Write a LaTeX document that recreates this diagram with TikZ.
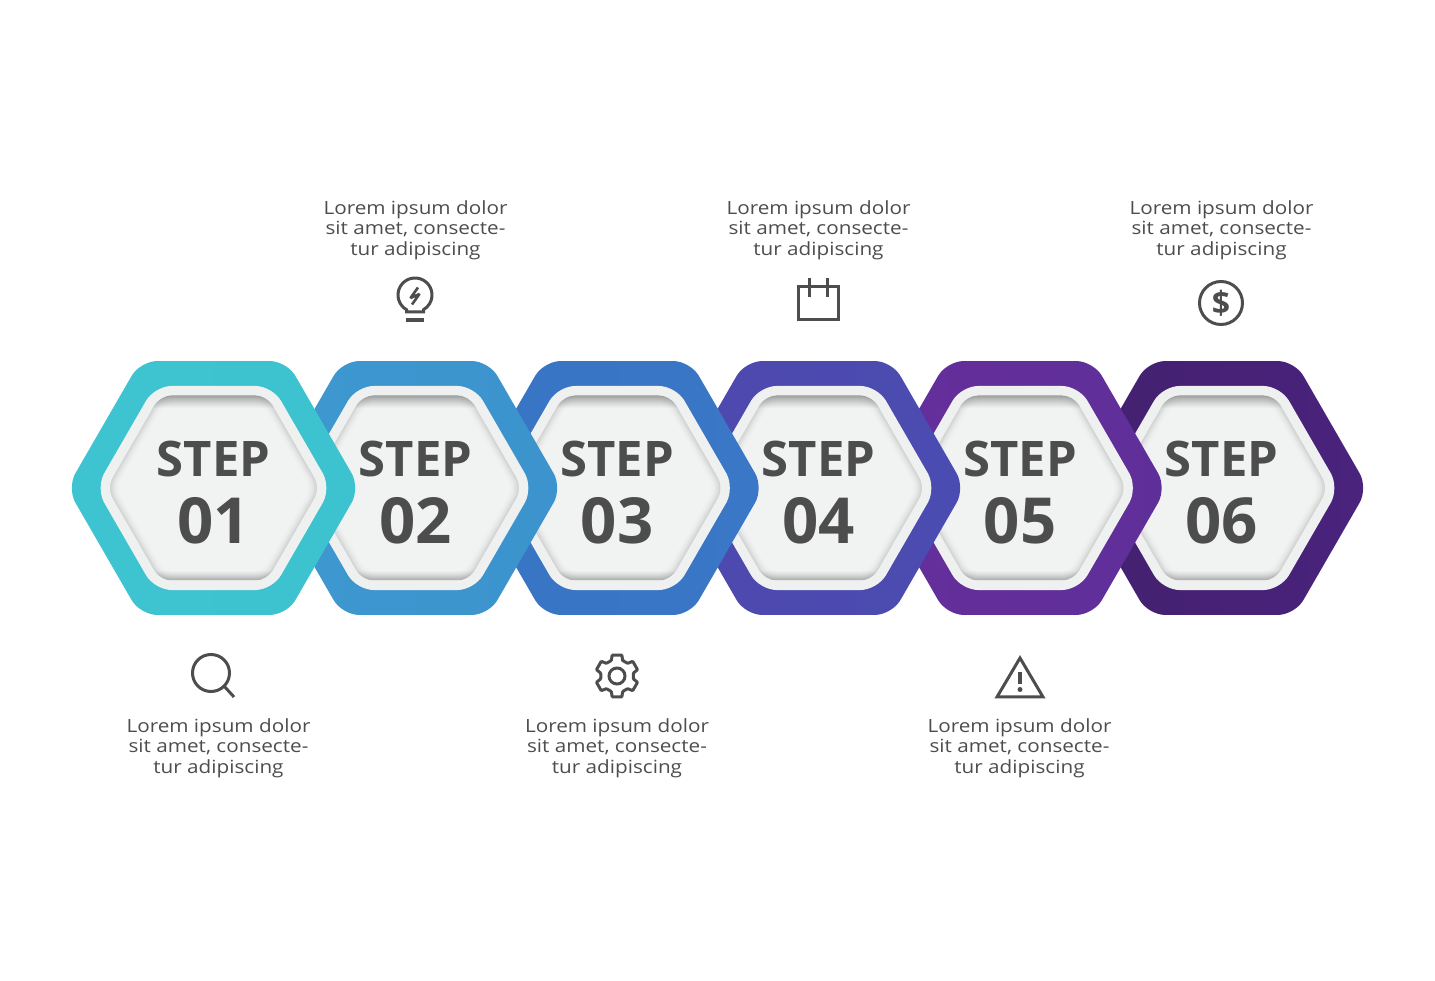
\documentclass[tikz,border=0pt]{standalone}
\usepackage{fontspec}
\setmainfont{Open Sans}
\newfontfamily\loremfont[FakeStretch=1.137]{Open Sans}
\usetikzlibrary{shapes.geometric}
\definecolor{inkgrey}{HTML}{4D4D4D}
\definecolor{ringgrey}{HTML}{EFF0F0}
\definecolor{padgrey}{HTML}{F1F2F2}
\definecolor{hexAl}{HTML}{3EC4D0}\definecolor{hexAr}{HTML}{3DC2CF}
\definecolor{hexBl}{HTML}{3E98D0}\definecolor{hexBr}{HTML}{3C93CD}
\definecolor{hexCl}{HTML}{3974C5}\definecolor{hexCr}{HTML}{3A77C6}
\definecolor{hexDl}{HTML}{4F48AE}\definecolor{hexDr}{HTML}{4A4CB1}
\definecolor{hexEl}{HTML}{652E9B}\definecolor{hexEr}{HTML}{5F2F99}
\definecolor{hexFl}{HTML}{43206E}\definecolor{hexFr}{HTML}{4A237D}
\newcommand{\padpath}[1]{
  \pgfmathsetmacro{\ha}{92.5-#1}
  \pgfmathsetmacro{\hw}{106.8-1.15*#1}
  \pgfmathsetmacro{\ht}{\hw-\ha/1.732}
}
\tikzset{
  hexbase/.style={regular polygon,regular polygon sides=6,inner sep=0pt,outer sep=0pt},
  hexouter/.style={hexbase,minimum size=293.2pt,rounded corners=17pt},
  hexring/.style={hexbase,minimum size=235.6pt,rounded corners=17pt,fill=ringgrey},
  steplabel/.style={text=inkgrey,anchor=base,font=\bfseries\fontsize{49}{49}\selectfont},
  stepnum/.style={text=inkgrey,anchor=base,font=\bfseries\fontsize{63.5}{63.5}\selectfont},
  lorem/.style={text=inkgrey,align=center,inner sep=0pt,font=\loremfont\fontsize{18.2}{20.5}\selectfont},
  icon/.style={draw=inkgrey,line width=3pt,line join=miter}
}
\begin{document}
\begin{tikzpicture}[x=1pt,y=1pt]
  \useasboundingbox (0,0) rectangle (1435,980);
  % hexagons, last one first so that each lies over the next
  \foreach \n/\cx/\cl/\cr in {6/1221.5/hexFl/hexFr,5/1020/hexEl/hexEr,4/818.5/hexDl/hexDr,3/617/hexCl/hexCr,2/415.5/hexBl/hexBr,1/213.5/hexAl/hexAr} {
    \node[hexouter,left color=\cl,right color=\cr] (outer\n) at (\cx,492) {};
    \node[hexring] (ring\n) at (\cx,492) {};
    % soft shadow all round, then stronger at top and bottom
    \foreach \j in {0,...,8} {
      \padpath{\j}
      \pgfmathsetmacro{\dk}{13*(1-\j/9)^2}
      \fill[black!\dk!padgrey,rounded corners=11.3pt,shift={(\cx,492)}]
        (-\hw,0) -- (-\ht,\ha) -- (\ht,\ha) -- (\hw,0) -- (\ht,-\ha) -- (-\ht,-\ha) -- cycle;
    }
    \begin{scope}[shift={(\cx,492)}]
      \padpath{0}
      \clip[rounded corners=11.3pt] (-\hw,0) -- (-\ht,\ha) -- (\ht,\ha) -- (\hw,0) -- (\ht,-\ha) -- (-\ht,-\ha) -- cycle;
      \foreach \j in {1,...,13} {
        \fill[black,opacity=0.018] (-100,92.5) rectangle (100,92.5-\j);
      }
      \foreach \j in {1,...,9} {
        \fill[black,opacity=0.016] (-100,-92.5) rectangle (100,-92.5+\j);
      }
    \end{scope}
    \node[steplabel] (label\n) at (\cx,503) {STEP};
    \node[stepnum] (num\n) at (\cx,436) {0\n};
  }
  % texts above
  \node[lorem] (textB) at (415.5,749.8) {Lorem ipsum dolor\\sit amet, consecte-\\tur adipiscing};
  \node[lorem] (textD) at (818.5,749.8) {Lorem ipsum dolor\\sit amet, consecte-\\tur adipiscing};
  \node[lorem] (textF) at (1221.5,749.8) {Lorem ipsum dolor\\sit amet, consecte-\\tur adipiscing};
  % texts below
  \node[lorem] (textA) at (218.5,231.8) {Lorem ipsum dolor\\sit amet, consecte-\\tur adipiscing};
  \node[lorem] (textC) at (617,231.8) {Lorem ipsum dolor\\sit amet, consecte-\\tur adipiscing};
  \node[lorem] (textE) at (1019.5,231.8) {Lorem ipsum dolor\\sit amet, consecte-\\tur adipiscing};
  % bulb
  \draw[icon] (406.5,670.3) arc (240:-60:17) -- (423.5,668) -- (406.5,668) -- cycle;
  \draw[icon,line width=3.5pt] (406,660) -- (424,660);
  \draw[icon,line width=2.6pt,line join=bevel] (418,692.5) -- (410.5,682) -- (419.5,686) -- (412,675.5);
  % calendar
  \draw[icon] (798,693) rectangle (838.5,660);
  \draw[icon] (809,702) -- (809,683);
  \draw[icon] (827,702) -- (827,683);
  % dollar
  \draw[icon] (1221,677) circle (21.5);
  \node[text=inkgrey,inner sep=0pt,font=\bfseries\fontsize{32}{32}\selectfont] (dollar) at (1221,677) {\$};
  % magnifier
  \draw[icon] (211,307) circle (18.5);
  \draw[icon] (224,294) -- (234,283);
  % gear
  \draw[icon,rounded corners=0.8pt] ([shift={(617,304)}]70:16.5) \foreach \a in {0,60,...,300} {
    -- ([shift={(617,304)}]\a+77:21.5) -- ([shift={(617,304)}]\a+103:21.5) -- ([shift={(617,304)}]\a+110:16.5) -- ([shift={(617,304)}]\a+130:16.5)} -- cycle;
  \draw[icon] (617,304) circle (8);
  % warning
  \draw[icon] (1020,322) -- (1043,283) -- (997,283) -- cycle;
  \draw[draw=inkgrey,line width=4pt] (1020,308) -- (1020,296);
  \fill[inkgrey] (1020,290.5) circle (2.5);
\end{tikzpicture}
\end{document}
